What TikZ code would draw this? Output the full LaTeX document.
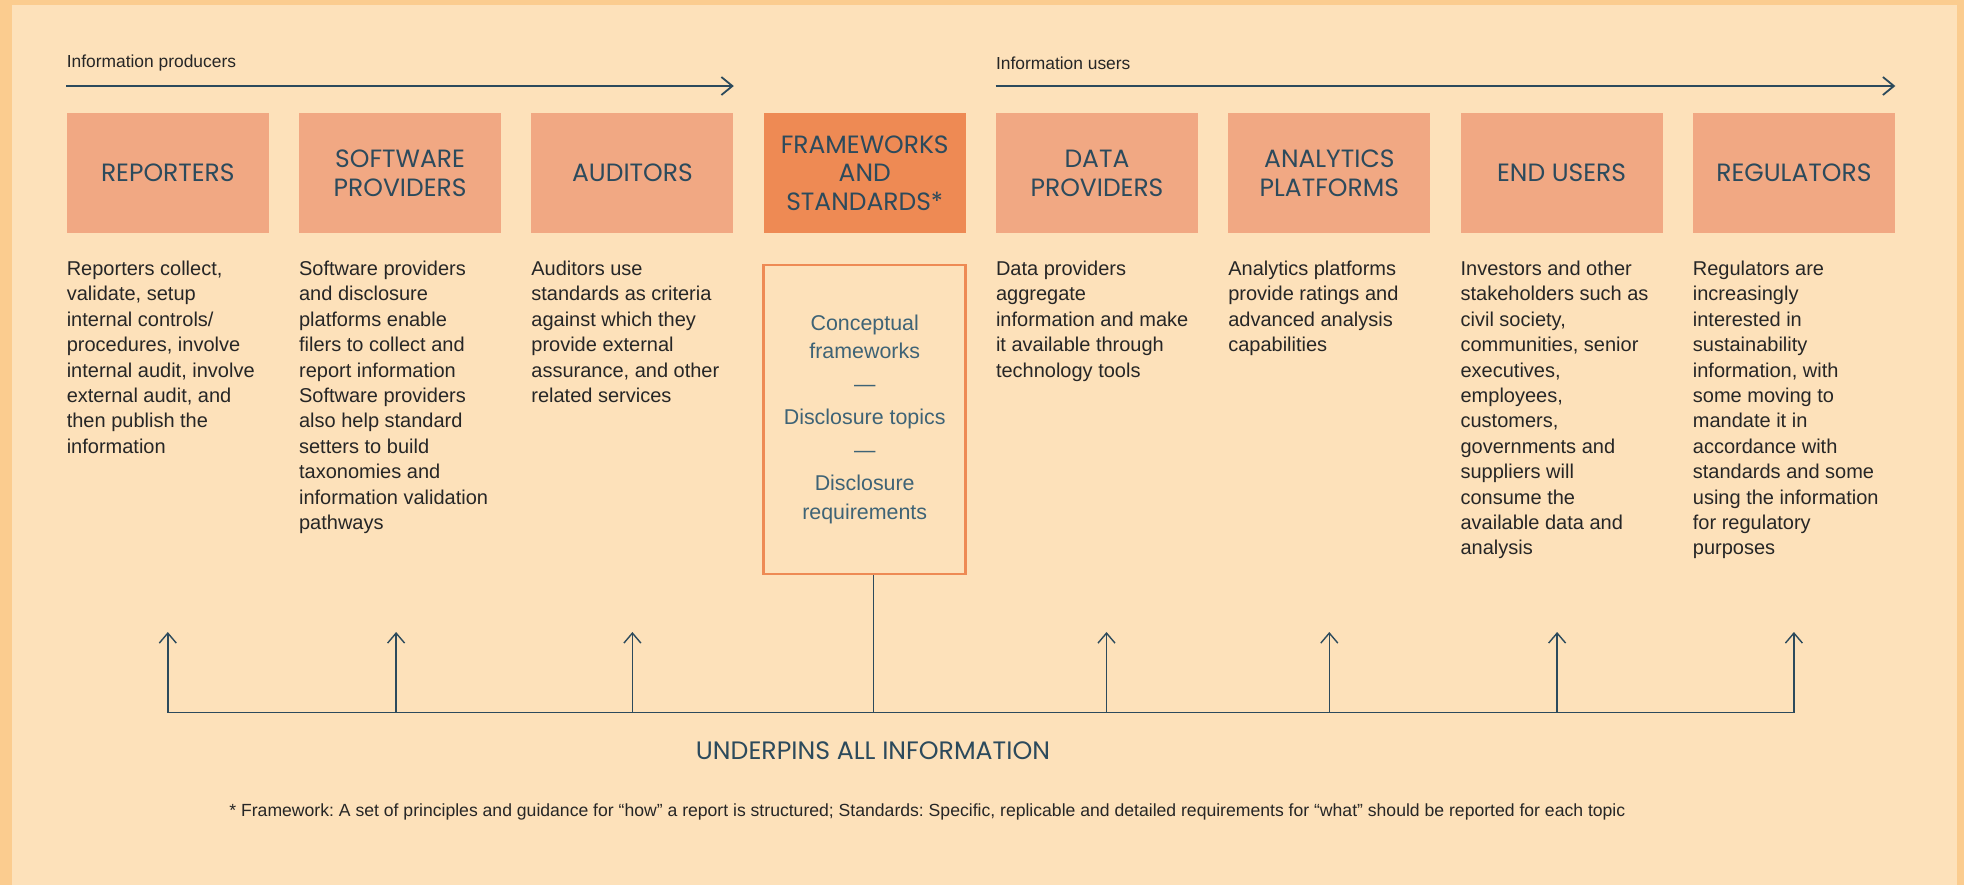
\documentclass[tikz,border=0pt]{standalone}
\usepackage{fontspec}
\setmainfont{Liberation Sans}
\newfontfamily\titlefont{Poppins}
\usetikzlibrary{positioning,arrows.meta}
\frenchspacing

\definecolor{frame}{HTML}{FBCC8F}
\definecolor{paper}{HTML}{FDE1BA}
\definecolor{salmon}{HTML}{F1A883}
\definecolor{tangerine}{HTML}{EE8A54}
\definecolor{slate}{HTML}{2C4A5C}
\definecolor{steel}{HTML}{3E6376}
\definecolor{ink}{HTML}{262626}

\tikzstyle{block} = [rectangle, fill=salmon, text=slate, text centered, minimum width=101pt, minimum height=60pt, inner sep=0pt, align=center, font=\titlefont\fontsize{12.5}{14.4}\selectfont]
\tikzstyle{block2} = [block, fill=tangerine]
\tikzstyle{desc} = [anchor=north west, inner sep=0pt, align=left, text=ink, font=\fontsize{10}{12.7}\selectfont]
\tikzstyle{fwlist} = [rectangle, draw=tangerine, line width=1.4pt, minimum width=101pt, minimum height=154.5pt, inner sep=0pt, align=center, text=steel, font=\fontsize{10.7}{14.25}\selectfont]
\tikzstyle{hlabel} = [anchor=west, inner sep=0pt, text=ink, font=\fontsize{8.7}{10}\selectfont]
\tikzstyle{line} = [draw=slate, line width=0.9pt, -{Straight Barb[length=5.5pt,width=9pt]}]
\tikzstyle{uparrow} = [draw=slate, line width=0.7pt, -{Straight Barb[length=5pt,width=8.5pt]}]
\tikzstyle{busline} = [draw=slate, line width=0.9pt]

\begin{document}
\begin{tikzpicture}[x=0.5pt, y=-0.5pt, node distance=14.75pt]
	\fill[frame] (0,0) rectangle (1964,885);
	\fill[paper] (12,5) rectangle (1957,885);
	\useasboundingbox (0,0) rectangle (1964,885);
	\coordinate (lblrow) at (0,63);
	\coordinate (prodline) at (0,86);
	\coordinate (tips) at (0,632);
	\coordinate (bus) at (0,712.5);

	\node[block, anchor=north west] (rep) at (66.4,112.7) {REPORTERS};
	\node[block, right=of rep] (sw) {SOFTWARE\\PROVIDERS};
	\node[block, right=of sw] (aud) {AUDITORS};
	\node[block2, right=of aud] (fs) {FRAMEWORKS\\AND\\STANDARDS*};
	\node[block, right=of fs] (dp) {DATA\\PROVIDERS};
	\node[block, right=of dp] (ap) {ANALYTICS\\PLATFORMS};
	\node[block, right=of ap] (eu) {END USERS};
	\node[block, right=of eu] (reg) {REGULATORS};

	\node[hlabel] (prod) at (rep.west |- lblrow) {Information producers};
	\node[hlabel] (users) at (dp.west |- lblrow) {Information users};

	\node[below=13.5pt of rep.south west, desc] (drep) {Reporters collect,\\validate, setup\\internal controls/\\procedures, involve\\internal audit, involve\\external audit, and\\then publish the\\information};
	\node[below=13.5pt of sw.south west, desc] (dsw) {Software providers\\and disclosure\\platforms enable\\filers to collect and\\report information\\Software providers\\also help standard\\setters to build\\taxonomies and\\information validation\\pathways};
	\node[below=13.5pt of aud.south west, desc] (daud) {Auditors use\\standards as criteria\\against which they\\provide external\\assurance, and other\\related services};
	\node[fwlist, below=14pt of fs, yshift=-1pt] (fwl) {Conceptual\\frameworks\\[2.25pt]—\\[2.25pt]Disclosure topics\\[2.25pt]—\\[2.25pt]Disclosure\\requirements};
	\node[below=13.5pt of dp.south west, desc] (ddp) {Data providers\\aggregate\\information and make\\it available through\\technology tools};
	\node[below=13.5pt of ap.south west, desc] (dap) {Analytics platforms\\provide ratings and\\advanced analysis\\capabilities};
	\node[below=13.5pt of eu.south west, desc] (deu) {Investors and other\\stakeholders such as\\civil society,\\communities, senior\\executives,\\employees,\\customers,\\governments and\\suppliers will\\consume the\\available data and\\analysis};
	\node[below=13.5pt of reg.south west, desc] (dreg) {Regulators are\\increasingly\\interested in\\sustainability\\information, with\\some moving to\\mandate it in\\accordance with\\standards and some\\using the information\\for regulatory\\purposes};

	\node[text=slate, font=\titlefont\fontsize{12.6}{14}\selectfont] (under) at (873,751) {UNDERPINS ALL INFORMATION};
	\node[hlabel, font=\fontsize{8.8}{10}\selectfont] (note) at (229,812) {* Framework: A set of principles and guidance for “how” a report is structured; Standards: Specific, replicable and detailed requirements for “what” should be reported for each topic};

	\path[line] (rep.west |- prodline) -- (aud.east |- prodline);
	\path[line] (dp.west |- prodline) -- (reg.east |- prodline);
	\draw[busline, line width=0.7pt] ([xshift=4.5pt]fwl.south) -- ([xshift=4.5pt]fwl.south |- bus);
	\draw[busline] (rep.center |- bus) -- (reg.center |- bus);
	\foreach \n/\s in {rep/0,sw/-2,aud/0,dp/4.75,ap/0,eu/-2.25,reg/0}
		\path[uparrow] ([xshift=\s pt]\n.center |- bus) -- ([xshift=\s pt]\n.center |- tips);
\end{tikzpicture}
\end{document}
